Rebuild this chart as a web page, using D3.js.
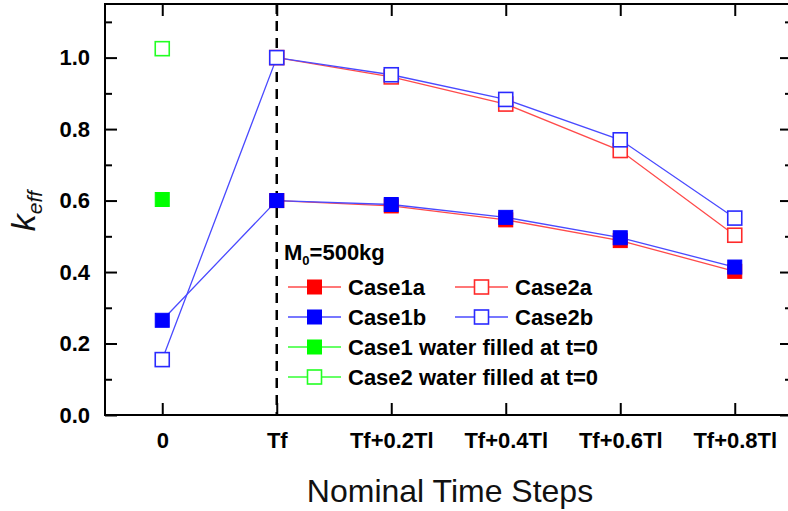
<!DOCTYPE html>
<html>
<head>
<meta charset="utf-8">
<script src="https://cdn.jsdelivr.net/npm/d3@7"></script>
<style>
  html, body { margin: 0; padding: 0; background: #fff; }
  svg { display: block; }
  text { font-family: Arial, "Liberation Sans", sans-serif; }
</style>
</head>
<body>
<svg id="chart" width="788" height="511"></svg>
<script>
// Time steps along the x axis
const steps = ["0", "Tf", "Tf+0.2Tl", "Tf+0.4Tl", "Tf+0.6Tl", "Tf+0.8Tl"];

// k_eff per series (null where a series has no value)
const case1a = [null, 0.600, 0.585, 0.546, 0.488, 0.402];
const case1b = [0.265, 0.600, 0.589, 0.553, 0.496, 0.414];
const case2a = [null, 1.000, 0.946, 0.870, 0.740, 0.503];
const case2b = [0.155, 1.000, 0.952, 0.883, 0.770, 0.551];
const case1Water = [0.603, null, null, null, null, null];
const case2Water = [1.025, null, null, null, null, null];

const yMajorTicks = [0.0, 0.2, 0.4, 0.6, 0.8, 1.0];
const yMinorTicks = [0.1, 0.3, 0.5, 0.7, 0.9, 1.1];

const series = [
  { name: "Case1a", values: case1a, color: "#ff0000", line: "#ff4a4a", filled: true },
  { name: "Case1b", values: case1b, color: "#0000ff", line: "#4a4aff", filled: true },
  { name: "Case2a", values: case2a, color: "#ff2a2a", line: "#ff4a4a", filled: false },
  { name: "Case2b", values: case2b, color: "#2a2aff", line: "#4a4aff", filled: false },
  { name: "Case1 water filled at t=0", values: case1Water, color: "#00ff00", line: "#33ff33", filled: true },
  { name: "Case2 water filled at t=0", values: case2Water, color: "#22ff22", line: "#33ff33", filled: false }
];

const svg = d3.select("#chart");
const L = 105, R = 792, T = 4, B = 415;

const x = d3.scalePoint().domain(steps).range([L, R]).padding(0.5);
const y = d3.scaleLinear().domain([0, 1.15]).range([B, T]);

// Axes with inward ticks on all four sides
const g = svg.append("g");
const styleAxis = sel => {
  sel.select(".domain").remove();
  sel.selectAll(".tick line").attr("stroke", "#000").attr("stroke-width", 2);
  sel.selectAll(".tick text").attr("font-size", 22).attr("font-weight", "bold").attr("fill", "#000");
};

g.append("g").attr("transform", `translate(0,${B})`)
  .call(d3.axisBottom(x).tickSizeInner(-12).tickSizeOuter(0).tickPadding(17))
  .call(styleAxis);
g.append("g").attr("transform", `translate(0,${T})`)
  .call(d3.axisTop(x).tickSizeInner(-12).tickSizeOuter(0).tickFormat(""))
  .call(styleAxis);
g.append("g").attr("transform", `translate(${L},0)`)
  .call(d3.axisLeft(y).tickValues(yMajorTicks).tickFormat(d3.format(".1f")).tickSizeInner(-12).tickSizeOuter(0).tickPadding(15))
  .call(styleAxis);
g.append("g").attr("transform", `translate(${L},0)`)
  .call(d3.axisLeft(y).tickValues(yMinorTicks).tickFormat("").tickSizeInner(-7).tickSizeOuter(0))
  .call(styleAxis);
g.append("g").attr("transform", `translate(${R},0)`)
  .call(d3.axisRight(y).tickValues(yMajorTicks).tickFormat("").tickSizeInner(-12).tickSizeOuter(0))
  .call(styleAxis);
g.append("g").attr("transform", `translate(${R},0)`)
  .call(d3.axisRight(y).tickValues(yMinorTicks).tickFormat("").tickSizeInner(-7).tickSizeOuter(0))
  .call(styleAxis);

svg.append("rect").attr("x", L).attr("y", T).attr("width", R - L).attr("height", B - T)
  .attr("fill", "none").attr("stroke", "#000").attr("stroke-width", 2);

// Dashed marker of the Tf step
svg.append("line")
  .attr("x1", x("Tf")).attr("x2", x("Tf")).attr("y1", T).attr("y2", B)
  .attr("stroke", "#000").attr("stroke-width", 2.5).attr("stroke-dasharray", "10,7");

// Axis titles
svg.append("text").attr("x", 450).attr("y", 502).attr("text-anchor", "middle")
  .attr("font-size", 32).attr("fill", "#111").text("Nominal Time Steps");

const yTitle = svg.append("text").attr("transform", "translate(35,211) rotate(-90)")
  .attr("text-anchor", "middle").attr("font-style", "italic").attr("fill", "#111");
yTitle.append("tspan").attr("font-size", 34).text("k");
yTitle.append("tspan").attr("font-size", 21).attr("dy", 7).text("eff");

// Lines and markers
const M = 14;
const line = d3.line().defined(d => d.v != null).x(d => x(d.s)).y(d => y(d.v));
series.forEach(s => {
  const pts = s.values.map((v, i) => ({ s: steps[i], v }));
  svg.append("path").datum(pts).attr("d", line)
    .attr("fill", "none").attr("stroke", s.line).attr("stroke-width", 1.3);
});
series.forEach(s => {
  const pts = s.values.map((v, i) => ({ s: steps[i], v })).filter(d => d.v != null);
  svg.append("g").selectAll("rect").data(pts).join("rect")
    .attr("x", d => x(d.s) - M / 2).attr("y", d => y(d.v) - M / 2)
    .attr("width", M).attr("height", M)
    .attr("fill", s.filled ? s.color : "#fff")
    .attr("stroke", s.color).attr("stroke-width", s.filled ? 1 : 1.6);
});

// Legend
const leg = svg.append("g");
const mTitle = leg.append("text").attr("x", 284).attr("y", 260)
  .attr("font-size", 22).attr("font-weight", "bold").attr("fill", "#000");
mTitle.append("tspan").text("M");
mTitle.append("tspan").attr("font-size", 13).attr("dy", 5).text("0");
mTitle.append("tspan").attr("dy", -5).text("=500kg");

const legendRows = [
  { s: series[0], col: 0, row: 0 },
  { s: series[2], col: 1, row: 0 },
  { s: series[1], col: 0, row: 1 },
  { s: series[3], col: 1, row: 1 },
  { s: series[4], col: 0, row: 2 },
  { s: series[5], col: 0, row: 3 }
];
legendRows.forEach(e => {
  const x0 = e.col === 0 ? 288 : 455;
  const cy = 287 + e.row * 30;
  leg.append("line").attr("x1", x0).attr("x2", x0 + 53).attr("y1", cy).attr("y2", cy)
    .attr("stroke", e.s.line).attr("stroke-width", 1.3);
  leg.append("rect").attr("x", x0 + 26.5 - M / 2).attr("y", cy - M / 2).attr("width", M).attr("height", M)
    .attr("fill", e.s.filled ? e.s.color : "#fff").attr("stroke", e.s.color)
    .attr("stroke-width", e.s.filled ? 1 : 1.6);
  leg.append("text").attr("x", x0 + 60).attr("y", cy + 8)
    .attr("font-size", 22).attr("font-weight", "bold").attr("fill", "#000").text(e.s.name);
});
</script>
</body>
</html>
